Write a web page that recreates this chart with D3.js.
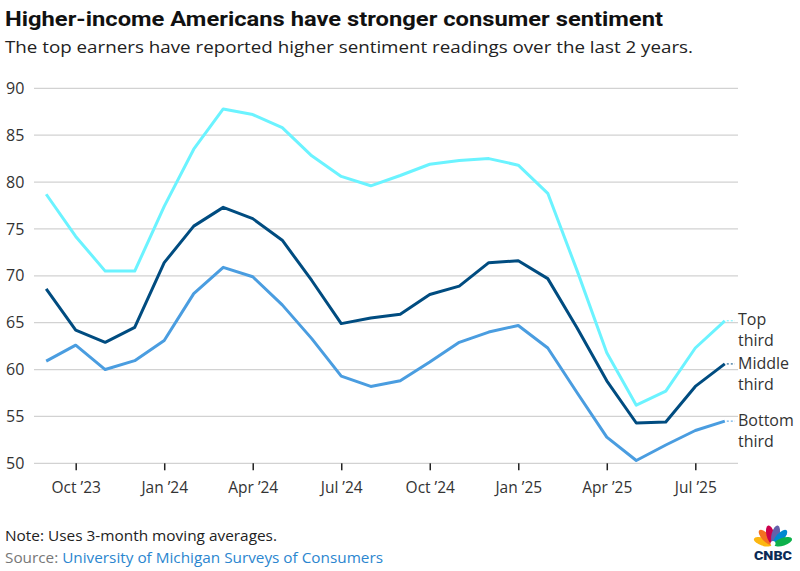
<!DOCTYPE html>
<html>
<head>
<meta charset="utf-8">
<script src="https://cdn.jsdelivr.net/npm/d3@7"></script>
<style>
  html, body { margin: 0; padding: 0; background: #fff; }
  svg { display: block; font-family: "Open Sans", Roboto, sans-serif; }
</style>
</head>
<body>
<svg id="chart" width="800" height="571"></svg>
<script>
// ---- data ----
const months = ["Sep 2023","Oct 2023","Nov 2023","Dec 2023","Jan 2024","Feb 2024","Mar 2024","Apr 2024",
  "May 2024","Jun 2024","Jul 2024","Aug 2024","Sep 2024","Oct 2024","Nov 2024","Dec 2024",
  "Jan 2025","Feb 2025","Mar 2025","Apr 2025","May 2025","Jun 2025","Jul 2025","Aug 2025"];
const topThird    = [78.7, 74.2, 70.5, 70.5, 77.4, 83.5, 87.8, 87.2, 85.8, 82.8, 80.6, 79.6, 80.7, 81.9, 82.3, 82.5, 81.8, 78.8, 70.5, 61.8, 56.2, 57.7, 62.3, 65.2];
const middleThird = [68.6, 64.2, 62.9, 64.5, 71.4, 75.3, 77.3, 76.1, 73.8, 69.5, 64.9, 65.5, 65.9, 68.0, 68.9, 71.4, 71.6, 69.7, 64.4, 58.8, 54.3, 54.4, 58.2, 60.6];
const bottomThird = [60.9, 62.6, 60.0, 60.95, 63.1, 68.1, 70.9, 69.9, 66.9, 63.3, 59.3, 58.2, 58.8, 60.8, 62.9, 64.0, 64.7, 62.3, 57.5, 52.8, 50.3, 51.95, 53.5, 54.5];
const seriesNames = [["Top", "third"], ["Middle", "third"], ["Bottom", "third"]];
const yTicks = [50, 55, 60, 65, 70, 75, 80, 85, 90];
const xTickMonths = ["Oct 2023","Jan 2024","Apr 2024","Jul 2024","Oct 2024","Jan 2025","Apr 2025","Jul 2025"];
const xTickLabels = ["Oct \u201923","Jan \u201924","Apr \u201924","Jul \u201924","Oct \u201924","Jan \u201925","Apr \u201925","Jul \u201925"];

const colors = ["#6bf3ff", "#004c80", "#4a9de0"];
const svg = d3.select("#chart");

const x = d3.scaleLinear().domain([0, months.length - 1]).range([46.2, 724.8]);
const y = d3.scaleLinear().domain([50, 90]).range([463.3, 88.3]);

function fitWidth(sel, w) {
  const n = sel.node();
  const cur = n.getComputedTextLength();
  if (Math.abs(cur - w) > 1) sel.attr("textLength", w).attr("lengthAdjust", "spacingAndGlyphs");
}

// title
const title = svg.append("text").attr("x", 5).attr("y", 26)
  .attr("font-size", 21).attr("font-weight", 700).attr("fill", "#111")
  .attr("font-family", "Roboto, sans-serif")
  .text("Higher-income Americans have stronger consumer sentiment");
fitWidth(title, 658);
const sub = svg.append("text").attr("x", 5).attr("y", 53)
  .attr("font-size", 17).attr("fill", "#222")
  .text("The top earners have reported higher sentiment readings over the last 2 years.");
fitWidth(sub, 688);

// gridlines
const grid = svg.append("g");
grid.selectAll("line").data(yTicks).join("line")
  .attr("x1", 34).attr("x2", 738)
  .attr("y1", d => y(d)).attr("y2", d => y(d))
  .attr("stroke", "#d2d2d2").attr("stroke-width", 1.3);

// y labels
svg.append("g").selectAll("text").data(yTicks).join("text")
  .attr("x", 6).attr("y", d => y(d)).attr("dy", "0.35em")
  .attr("font-size", 16).attr("fill", "#333")
  .text(d => d);

// x axis ticks
const xAxis = d3.axisBottom(x)
  .tickValues(xTickMonths.map(m => months.indexOf(m)))
  .tickFormat((d, i) => xTickLabels[i])
  .tickSize(7).tickPadding(12);
const gx = svg.append("g").attr("transform", `translate(0,${y(50)})`).call(xAxis);
gx.select(".domain").remove();
gx.selectAll(".tick line").attr("stroke", "#222").attr("stroke-width", 1.5);
gx.selectAll(".tick text").attr("font-size", 15.5).attr("fill", "#333")
  .attr("font-family", "'Open Sans', sans-serif");

// lines
const line = d3.line().x((d, i) => x(i)).y(d => y(d));
const all = [topThird, middleThird, bottomThird];
svg.append("g").selectAll("path").data(all).join("path")
  .attr("d", d => line(d))
  .attr("fill", "none")
  .attr("stroke", (d, i) => colors[i])
  .attr("stroke-width", 3)
  .attr("stroke-linejoin", "round");

// end labels
const labelY = [320, 364, 421];
const lbl = svg.append("g");
all.forEach((s, i) => {
  const last = s[s.length - 1];
  lbl.append("line")
    .attr("x1", x(s.length - 1) + 2).attr("x2", 735)
    .attr("y1", y(last)).attr("y2", y(last))
    .attr("stroke", colors[i]).attr("stroke-width", 1)
    .attr("stroke-dasharray", "2,2");
  const t = lbl.append("text").attr("x", 738).attr("font-size", 16).attr("fill", "#333");
  seriesNames[i].forEach((w, j) => {
    t.append("tspan").attr("x", 738).attr("y", labelY[i] + 5 + j * 21).text(w);
  });
});

// footer
const note = svg.append("text").attr("x", 5).attr("y", 541)
  .attr("font-size", 14).attr("fill", "#222")
  .text("Note: Uses 3-month moving averages.");
fitWidth(note, 272);
const src = svg.append("text").attr("x", 5).attr("y", 563).attr("font-size", 14);
src.append("tspan").attr("fill", "#777").text("Source: ");
src.append("tspan").attr("fill", "#2b86cf").text("University of Michigan Surveys of Consumers");
fitWidth(src, 378);

// CNBC logo
const logo = svg.append("g").attr("transform", "translate(773,545)");
const featherColors = ["#fcb711", "#f37021", "#cc004c", "#6460aa", "#0089d0", "#0db14b"];
const angles = [-72, -43, -14, 14, 43, 72];
angles.forEach((a, i) => {
  logo.append("ellipse")
    .attr("cx", 0).attr("cy", -10.5).attr("rx", 4).attr("ry", 9.5)
    .attr("fill", featherColors[i])
    .attr("transform", `rotate(${a})`);
});
logo.append("circle").attr("cx", 0).attr("cy", -1.5).attr("r", 2.5).attr("fill", "#fff");
const logoText = logo.append("text").attr("x", 0).attr("y", 14.5).attr("text-anchor", "middle")
  .attr("font-size", 13).attr("font-weight", 900).attr("fill", "#0b2a55")
  .attr("font-family", "Roboto, sans-serif").text("CNBC");
fitWidth(logoText, 38);
</script>
</body>
</html>
